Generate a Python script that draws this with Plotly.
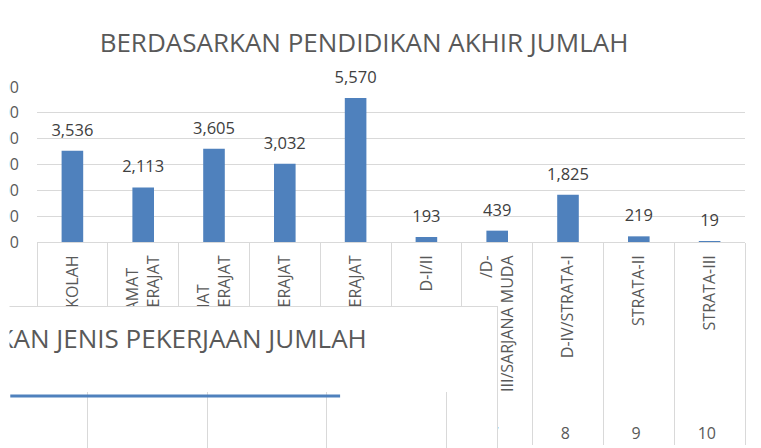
import plotly.graph_objects as go

W, H = 761, 448
NB = "\u00a0"
WJ = "\u2060"

# ---- data (main chart) ----
nomor = ["1", "2", "3", "4", "5", "6", "7", "8", "9", "10"]
pendidikan = [
    "TIDAK/BLM SEKOLAH",
    "BELUM TAMAT" + NB * 3 + WJ + "<br>SD/SEDERAJAT",
    "TAMAT" + NB * 7 + WJ + "<br>SD/SEDERAJAT",
    "SLTP/SEDERAJAT",
    "SLTA/SEDERAJAT",
    "D-I/II",
    "AKADEMI" + NB * 9 + "/D-<br>III/SARJANA MUDA",
    "D-IV/STRATA-I",
    "STRATA-II",
    "STRATA-III",
]
jumlah = [3536, 2113, 3605, 3032, 5570, 193, 439, 1825, 219, 19]
y_ticks = [0, 1000, 2000, 3000, 4000, 5000, 6000]
judul = "BERDASARKAN PENDIDIKAN AKHIR JUMLAH"

# ---- data (overlapping second chart, mostly hidden) ----
judul_kedua = "BERDASARKAN JENIS PEKERJAAN JUMLAH"
pekerjaan_posisi = [0.35, 3.11]
pekerjaan_nilai = [93, 93]

BLUE = "#4F81BD"
GRID = "#d9d9d9"
TXT = "#595959"
FONT = "Open Sans"

fig = go.Figure()

# main bars
fig.add_trace(go.Bar(
    x=[nomor, pendidikan], y=jumlah,
    marker=dict(color=BLUE, line=dict(width=0)),
    width=0.305, hoverinfo="skip", xaxis="x", yaxis="y",
))
# data labels
fig.add_trace(go.Scatter(
    x=[nomor, pendidikan], y=jumlah,
    mode="markers+text",
    text=[f"{v:,}" for v in jumlah],
    textposition="top center",
    textfont=dict(family=FONT, size=16.5, color="#404040"),
    marker=dict(size=16, opacity=0),
    cliponaxis=False, hoverinfo="skip", xaxis="x", yaxis="y",
))
# dummy subplot (helps layering of the overlapping chart box)
fig.add_trace(go.Scatter(x=[None], y=[None], mode="lines", hoverinfo="skip",
                         xaxis="x2", yaxis="y2"))
# second chart box with its title
fig.add_trace(go.Scatter(
    x=[0.738], y=[0.752], mode="text", text=[judul_kedua],
    textposition="middle left",
    textfont=dict(family=FONT, size=26, color=TXT),
    hoverinfo="skip", xaxis="x3", yaxis="y3",
))
# second chart line
fig.add_trace(go.Scatter(
    x=pekerjaan_posisi, y=pekerjaan_nilai, mode="lines",
    line=dict(color=BLUE, width=3), hoverinfo="skip",
    xaxis="x4", yaxis="y4",
))

box_x = [0, 497 / W]
fig.update_layout(
    width=W, height=H,
    margin=dict(l=0, r=0, t=0, b=0),
    paper_bgcolor="white", plot_bgcolor="white",
    showlegend=False,
    title=dict(text=judul, x=364 / W, xanchor="center", y=1 - 43 / H,
               yanchor="middle",
               font=dict(family=FONT, size=26, color=TXT)),
    xaxis=dict(
        type="multicategory", domain=[37 / W, 745 / W], anchor="y",
        range=[-0.5, 9.5],
        tickangle=-90, showdividers=True, dividercolor=GRID, dividerwidth=1,
        showline=True, linecolor=GRID, linewidth=1, showgrid=False,
        ticklabelstandoff=6,
        tickfont=dict(family=FONT, size=16, color=TXT), automargin=False,
    ),
    yaxis=dict(
        domain=[(H - 242) / H, (H - 87) / H], anchor="x",
        range=[0, 6000], tickvals=y_ticks, tickformat=",",
        showgrid=True, gridcolor=GRID, gridwidth=1,
        showline=False, zeroline=False, ticks="",
        ticklabelstandoff=17,
        tickfont=dict(family=FONT, size=16, color=TXT), automargin=False,
    ),
    xaxis2=dict(domain=[0.1, 0.2], anchor="y2", visible=False),
    yaxis2=dict(domain=[0.01, 0.05], anchor="x2", visible=False),
    xaxis3=dict(domain=box_x, anchor="y3", range=[0, 1], side="top",
                showline=True, linecolor=GRID, linewidth=1,
                showgrid=False, zeroline=False, showticklabels=False,
                ticks="", automargin=False),
    yaxis3=dict(domain=[0, (H - 307) / H], anchor="x3", range=[0, 1],
                side="right", showline=True, linecolor=GRID, linewidth=1,
                showgrid=False, zeroline=False, showticklabels=False,
                ticks="", automargin=False),
    xaxis4=dict(domain=box_x, anchor="y4", range=[0.264, 4.423],
                tick0=1, dtick=1, showgrid=True, gridcolor=GRID, gridwidth=1,
                zeroline=False, showline=False, showticklabels=False,
                ticks="", automargin=False),
    yaxis4=dict(domain=[0, (H - 392) / H], anchor="x4", range=[0, 100],
                showgrid=False, zeroline=False, showline=False,
                showticklabels=False, ticks="", automargin=False),
    shapes=[dict(type="rect", xref="paper", yref="paper",
                 x0=0, x1=9.5 / W, y0=0, y1=1,
                 fillcolor="white", line=dict(width=0), layer="above")],
)

fig.write_html(
    "out.html",
    config={"displayModeBar": False},
    post_script="document.body.style.margin='0px';document.body.style.overflow='hidden';",
)
